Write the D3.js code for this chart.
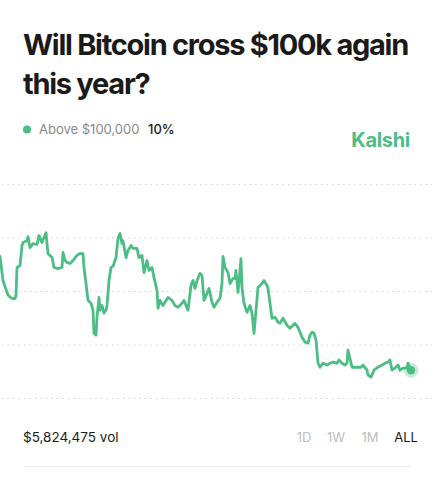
<!DOCTYPE html>
<html>
<head>
<meta charset="utf-8">
<script src="https://cdn.jsdelivr.net/npm/d3@7"></script>
<style>
  html, body { margin: 0; padding: 0; background: #fff; }
  svg { display: block; }
</style>
</head>
<body>
<svg id="chart" width="435" height="500"></svg>
<script>
// ---- Data ----
const title = ["Will Bitcoin cross $100k again", "this year?"];
const seriesName = "Above $100,000";
const currentValue = "10%";
const brand = "Kalshi";
const volumeLabel = "$5,824,475 vol";
const rangeButtons = ["1D", "1W", "1M", "ALL"];
const activeRange = "ALL";
const yTicks = [0, 20, 40, 60, 80];

// time index (days since market open) and probability (%)
const days = [0,3,8,12,15,16,17,20,22,23,27,28,30,33,37,39,42,44,46,47,48,52,54,58,62,63,65,67,70,73,77,80,83,84,86,88,91,93,94,96,97,99,100,102,104,106,107,109,111,113,116,118,120,122,123,126,128,131,133,137,139,142,144,147,149,152,154,157,158,160,163,165,168,172,175,178,182,184,186,188,191,193,195,197,200,202,204,207,209,212,214,217,
  220,222,223,225,228,230,233,235,236,238,239,241,242,244,247,250,252,254,256,258,262,264,267,268,272,275,278,280,283,287,290,295,298,302,305,308,310,312,314,316,318,320,323,327,330,333,337,339,342,345,347,348,352,355,358,361,363,367,368,371,374,378,382,385,388,390,392,395,398,400,403,407,408,411];
const pct = [52.9,43.9,38.4,37.2,37.2,38.4,48.8,49.5,57.0,58.1,58.8,60.3,56.2,57.7,57.4,60.7,58.1,60.0,61.8,57.7,54.0,52.5,48.8,48.4,48.8,54.4,51.4,50.7,50.3,51.4,53.3,54.0,54.0,48.8,42.8,36.5,35.4,32.8,24.2,23.5,30.2,37.6,32.8,34.6,31.7,32.8,34.6,43.9,48.8,49.2,52.5,59.6,61.5,57.7,58.8,52.5,55.1,57.0,55.9,55.9,52.5,53.3,46.9,51.4,47.7,48.8,45.1,40.2,33.5,36.5,34.6,35.8,37.6,36.5,34.6,33.9,35.4,36.5,34.6,32.8,42.1,43.9,41.0,43.9,46.6,45.8,36.5,39.1,41.0,35.8,33.9,35.8,
  37.2,42.8,52.9,48.8,46.9,42.8,44.7,44.7,47.7,39.5,43.2,52.1,41.3,35.4,32.0,34.6,31.7,24.2,32.8,41.3,42.8,43.9,42.1,41.0,29.8,30.2,28.3,27.9,29.8,27.2,26.1,27.9,26.4,22.7,20.9,20.5,23.5,24.6,24.2,21.6,13.0,11.5,13.0,12.3,13.0,13.4,13.0,14.2,13.0,12.3,13.0,17.9,11.5,11.5,11.5,11.5,12.3,10.4,8.6,7.8,10.4,11.5,12.3,13.0,13.4,14.2,10.4,11.2,12.3,10.4,11.2,11.2,13.0,10.4,9.7];

// ---- Styles ----
const green = "#4dbd86";
const font = "Inter, 'Open Sans', sans-serif";

const svg = d3.select("#chart");

// Title
const titleText = svg.append("g").selectAll("text").data(title).join("text")
  .attr("x", 23)
  .attr("y", (d, i) => 55 + i * 39)
  .attr("font-family", font)
  .attr("font-weight", 650)
  .attr("font-size", 29)
  .attr("letter-spacing", 0)
  .attr("fill", "#1a1a1a")
  .text(d => d);
// fit first line to the reference width
(function () {
  const node = titleText.nodes()[0];
  const L = node.getComputedTextLength();
  const n = title[0].length;
  const ls = (385 - L) / n;
  titleText.attr("letter-spacing", ls);
})();

// Legend
svg.append("circle").attr("cx", 27).attr("cy", 129.5).attr("r", 4).attr("fill", green);
svg.append("text").attr("x", 39).attr("y", 134)
  .attr("font-family", font).attr("font-size", 13).attr("fill", "#8a8a8a")
  .text(seriesName);
svg.append("text").attr("x", 148).attr("y", 134)
  .attr("font-family", font).attr("font-size", 13).attr("font-weight", 500).attr("fill", "#1a1a1a")
  .text(currentValue);

// Brand
svg.append("text").attr("x", 410).attr("y", 147).attr("text-anchor", "end")
  .attr("font-family", font).attr("font-size", 20).attr("font-weight", 700)
  .attr("letter-spacing", -0.3).attr("fill", green)
  .text(brand);

// Scales
const x = d3.scaleLinear().domain([0, 411]).range([0, 411]);
const y = d3.scaleLinear().domain([0, 80]).range([398, 184]);

// Grid
const yAxis = d3.axisRight(y).tickValues(yTicks).tickSize(432).tickFormat("");
const gAxis = svg.append("g").attr("transform", "translate(2,0)").call(yAxis);
gAxis.select(".domain").remove();
gAxis.selectAll(".tick line")
  .attr("stroke", "#cfcfcf")
  .attr("stroke-width", 1.2)
  .attr("stroke-dasharray", "1.3,4.2");

// Line
const data = days.map((d, i) => ({ d, v: pct[i] }));
const line = d3.line().x(p => x(p.d)).y(p => y(p.v));
svg.append("path").datum(data)
  .attr("d", line)
  .attr("fill", "none")
  .attr("stroke", green)
  .attr("stroke-width", 2.8)
  .attr("stroke-linejoin", "round")
  .attr("stroke-linecap", "round");

// End point
const last = data[data.length - 1];
svg.append("circle").attr("cx", x(last.d)).attr("cy", y(last.v)).attr("r", 7.5)
  .attr("fill", green).attr("opacity", 0.3);
svg.append("circle").attr("cx", x(last.d)).attr("cy", y(last.v)).attr("r", 4.2)
  .attr("fill", green);

// Volume
svg.append("text").attr("x", 23).attr("y", 442)
  .attr("font-family", font).attr("font-size", 13.5).attr("fill", "#1a1a1a")
  .text(volumeLabel);

// Range buttons
const btnX = { "1D": 304, "1W": 336, "1M": 370, "ALL": 406 };
svg.append("g").selectAll("text").data(rangeButtons).join("text")
  .attr("x", d => btnX[d])
  .attr("y", 442)
  .attr("text-anchor", "middle")
  .attr("font-family", font)
  .attr("font-size", 13)
  .attr("fill", d => d === activeRange ? "#1a1a1a" : "#bdbdbd")
  .text(d => d);

// Divider
svg.append("line").attr("x1", 23).attr("x2", 411).attr("y1", 466.5).attr("y2", 466.5)
  .attr("stroke", "#efefef").attr("stroke-width", 1);
</script>
</body>
</html>
